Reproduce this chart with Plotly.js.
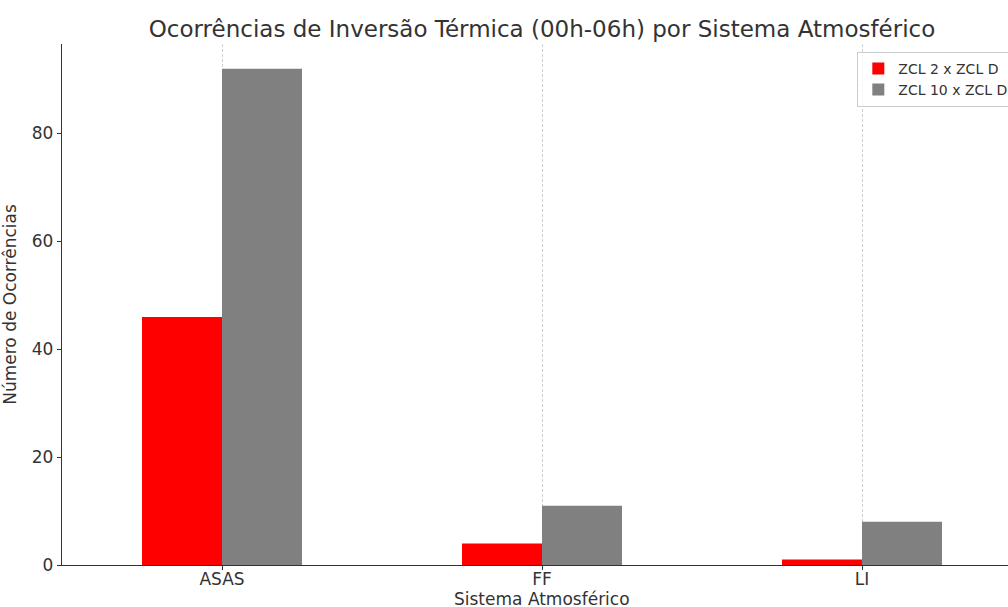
<!DOCTYPE html>
<html>
<head>
<meta charset="utf-8">
<script src="https://cdn.plot.ly/plotly-3.0.1.min.js"></script>
<style>
html, body { margin: 0; padding: 0; overflow: hidden; background: #fff; }
#chart { width: 1040px; height: 607px; }
</style>
</head>
<body>
<div id="chart"></div>
<script>
const categories = ["ASAS", "FF", "LI"];
const seriesNames = ["ZCL 2 x ZCL D", "ZCL 10 x ZCL D"];
const zcl2 = [46, 4, 1];
const zcl10 = [92, 11, 8];
const yTicks = [0, 20, 40, 60, 80];

const font = "DejaVu Sans, sans-serif";
const txt = "#333333";

const traces = [
  { type: "bar", name: seriesNames[0], x: categories, y: zcl2, marker: { color: "#ff0000" } },
  { type: "bar", name: seriesNames[1], x: categories, y: zcl10, marker: { color: "#808080" } }
];

const layout = {
  width: 1040, height: 607,
  margin: { l: 62, r: 18, t: 44, b: 42 },
  paper_bgcolor: "#ffffff", plot_bgcolor: "#ffffff",
  barmode: "group", bargap: 0.5, bargroupgap: 0,
  font: { family: font, color: txt, size: 17 },
  title: { text: "Ocorrências de Inversão Térmica (00h-06h) por Sistema Atmosférico",
           font: { family: font, size: 23, color: txt },
           x: 0.5, xref: "paper", y: 1 - 29 / 607, yref: "container", yanchor: "middle" },
  xaxis: {
    type: "category", range: [-0.5, 2.5],
    showline: true, linecolor: "#333", linewidth: 1.2,
    ticks: "outside", ticklen: 4, tickcolor: "#333",
    tickfont: { size: 17, color: txt }, ticklabelstandoff: -6,
    showgrid: true, gridcolor: "#d0d0d0", griddash: "3px,2px", gridwidth: 1,
    zeroline: false
  },
  yaxis: {
    range: [0, 96.6], tickvals: yTicks,
    title: { text: "Número de Ocorrências", font: { size: 17, color: txt }, standoff: 14 },
    showline: true, linecolor: "#333", linewidth: 1.2,
    ticks: "outside", ticklen: 4, tickcolor: "#333",
    tickfont: { size: 17, color: txt },
    showgrid: false, zeroline: false
  },
  annotations: [{
    text: "Sistema Atmosférico", xref: "paper", yref: "paper",
    x: 0.5, y: -34 / 521, xanchor: "center", yanchor: "middle",
    showarrow: false, font: { size: 17, color: txt }
  }],
  legend: {
    x: 0.992, xanchor: "right", y: 0.985, yanchor: "top",
    bgcolor: "rgba(255,255,255,0.8)", bordercolor: "#cccccc", borderwidth: 1,
    font: { size: 14, color: txt }, traceorder: "normal"
  },
  showlegend: true
};

Plotly.newPlot("chart", traces, layout, { displayModeBar: false, staticPlot: true });
</script>
</body>
</html>
